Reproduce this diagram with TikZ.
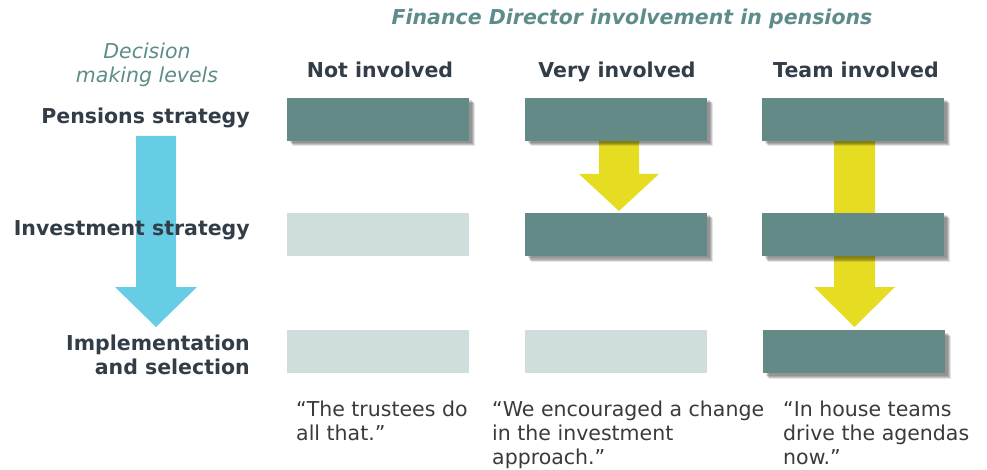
\documentclass[tikz,border=0pt]{standalone}
\usepackage{fontspec}
\setmainfont{DejaVu Sans}
\usetikzlibrary{shadows,calc}
\definecolor{boxdark}{HTML}{648A88}
\definecolor{boxlight}{HTML}{D0DDDD}
\definecolor{txtdark}{HTML}{333D47}
\definecolor{titlecol}{HTML}{5E8C8A}
\definecolor{arrblue}{HTML}{67CDE5}
\definecolor{arryel}{HTML}{E6DC22}
\definecolor{quotecol}{HTML}{3A3A3A}
\begin{document}
\begin{tikzpicture}[x=1pt,y=1pt,
  softshadow/.style={
     general shadow={shadow xshift=2.5pt,shadow yshift=-2.5pt,fill=black,opacity=.12},
     general shadow={shadow xshift=3.5pt,shadow yshift=-3.5pt,fill=black,opacity=.14},
     general shadow={shadow xshift=4.5pt,shadow yshift=-4.5pt,fill=black,opacity=.14},
     general shadow={shadow xshift=5.5pt,shadow yshift=-5.5pt,fill=black,opacity=.10}},
  fullbox/.style={fill=boxdark,draw=none,minimum width=182pt,minimum height=43pt,inner sep=0pt,softshadow},
  emptybox/.style={fill=boxlight,draw=none,minimum width=182pt,minimum height=43pt,inner sep=0pt},
  bigfont/.style={font=\fontsize{20.5}{24}\selectfont#1},
  rowlabel/.style={align=right,bigfont=\bfseries,text=txtdark,inner sep=0pt},
  colhead/.style={anchor=base,bigfont=\bfseries,text=txtdark,inner sep=0pt},
  quotetxt/.style={anchor=north west,align=left,bigfont=,text=quotecol,inner sep=0pt},
  ylw/.style={fill=arryel,draw=none},
  blu/.style={fill=arrblue,draw=none}]
\useasboundingbox (0,0) rectangle (987,-470);

% blue arrow (behind labels)
\coordinate (bt) at (156,-136);
\fill[blu] ($(bt)+(-20,0)$) -- ($(bt)+(20,0)$) -- ($(bt)+(20,-151)$) -- ($(bt)+(41,-151)$)
  -- ($(bt)+(0,-191)$) -- ($(bt)+(-41,-151)$) -- ($(bt)+(-20,-151)$) -- cycle;

% titles
\node[anchor=base,bigfont=\bfseries\itshape,text=titlecol,inner sep=0pt] (title) at (632,-25) {Finance Director involvement in pensions};
\node[anchor=base,bigfont=\itshape,text=titlecol,inner sep=0pt] (dml1) at (147,-59) {Decision};
\node[anchor=base,bigfont=\itshape,text=titlecol,inner sep=0pt] (dml2) at (147,-83) {making levels};
\node[colhead] (h1) at (380,-78) {Not involved};
\node[colhead] (h2) at (617,-78) {Very involved};
\node[colhead] (h3) at (856,-78) {Team involved};

% row labels
\node[rowlabel,anchor=base east] (r1) at (250,-124) {Pensions strategy};
\node[rowlabel,anchor=base east] (r2) at (250,-236) {Investment strategy};
\node[rowlabel,anchor=base east] (r3a) at (250,-350) {Implementation};
\node[rowlabel,anchor=base east] (r3b) at (250,-374) {and selection};

% boxes column 1
\node[fullbox] (a1) at (378,-119.5) {};
\node[emptybox] (b1) at (378,-234.5) {};
\node[emptybox] (c1) at (378,-351.5) {};

% column 2
\coordinate (y2) at (619,-141);
\fill[ylw] ($(y2)+(-20,0)$) -- ($(y2)+(20,0)$) -- ($(y2)+(20,-33)$) -- ($(y2)+(40,-33)$)
  -- ($(y2)+(0,-70)$) -- ($(y2)+(-40,-33)$) -- ($(y2)+(-20,-33)$) -- cycle;
\node[fullbox] (a2) at (616,-119.5) {};
\node[fullbox] (b2) at (616,-234.5) {};
\node[emptybox] (c2) at (616,-351.5) {};

% column 3
\coordinate (yt) at (854.5,-141);
\fill[ylw] ($(yt)+(-20.5,0)$) -- ($(yt)+(20.5,0)$) -- ($(yt)+(20.5,-146)$) -- ($(yt)+(40.5,-146)$)
  -- ($(yt)+(0,-186)$) -- ($(yt)+(-40.5,-146)$) -- ($(yt)+(-20.5,-146)$) -- cycle;
\node[fullbox] (a3) at (853,-119.5) {};
\node[fullbox] (b3) at (853,-234.5) {};
\node[fullbox] (c3) at (854,-351.5) {};

% quotes
\node[quotetxt] (q1) at (296,-401) {“The trustees do\\all that.”};
\node[quotetxt] (q2) at (492,-401) {“We encouraged a change\\in the investment\\approach.”};
\node[quotetxt] (q3) at (783,-401) {“In house teams\\drive the agendas\\now.”};
\end{tikzpicture}
\end{document}
